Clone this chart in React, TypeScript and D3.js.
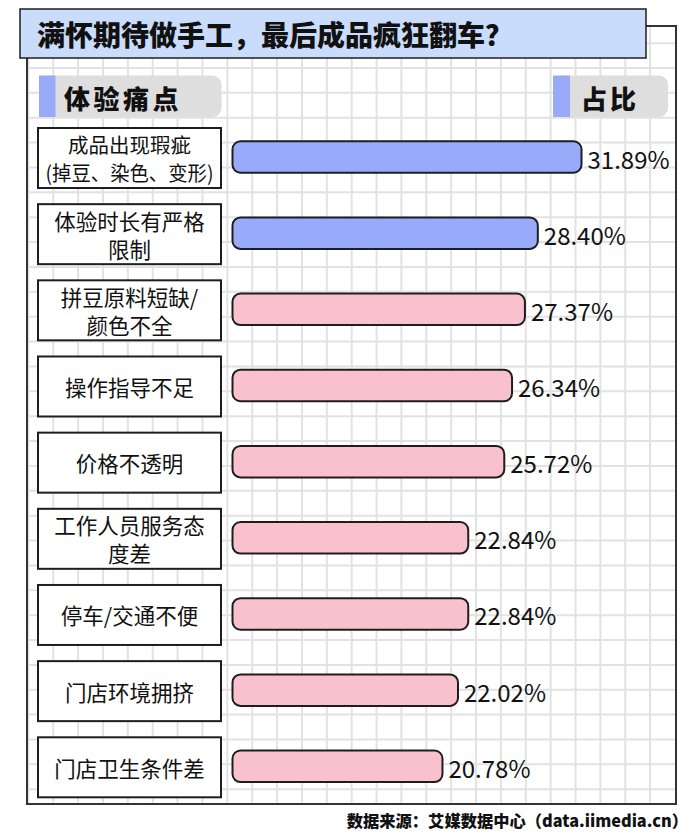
import React from "react";
import * as d3 from "d3";

const title = "满怀期待做手工，最后成品疯狂翻车？";
const headerLeft = "体验痛点";
const headerRight = "占比";
const source = "数据来源：艾媒数据中心（data.iimedia.cn）";

const categories: string[][] = [
  ["成品出现瑕疵", "(掉豆、染色、变形)"],
  ["体验时长有严格", "限制"],
  ["拼豆原料短缺/", "颜色不全"],
  ["操作指导不足"],
  ["价格不透明"],
  ["工作人员服务态", "度差"],
  ["停车/交通不便"],
  ["门店环境拥挤"],
  ["门店卫生条件差"],
];
const values = [31.89, 28.4, 27.37, 26.34, 25.72, 22.84, 22.84, 22.02, 20.78];
const highlightCount = 2;

const W = 700;
const H = 834;
const FONT = "'Noto Sans CJK SC', 'Noto Sans', sans-serif";
const BLUE = "#99aafb";
const PINK = "#f9c1cd";
const DARK = "#1e1e1e";

export default function App() {
  const frame = { x0: 27, y0: 26, x1: 676, y1: 804 };
  const gridStep = 24.87;

  const y = d3
    .scalePoint<number>()
    .domain(d3.range(values.length))
    .range([157, 766.3]);
  const x = d3.scaleLinear().domain([4, 31.89]).range([232.5, 581.5]);

  const barH = 31.5;
  const boxH = 60;
  const box = { x: 38, w: 183 };

  const vLines: number[] = [];
  for (let gx = 675 - gridStep; gx > frame.x0 + 1; gx -= gridStep) vLines.push(gx);
  const hLines: number[] = [];
  for (let gy = 68 - gridStep; gy < frame.y1 - 1; gy += gridStep) if (gy > frame.y0 + 1) hLines.push(gy);

  return (
    <svg
      width={W}
      height={H}
      style={{ position: "absolute", left: 0, top: 0, background: "#fff" }}
      fontFamily={FONT}
    >
      <rect x={0} y={0} width={W} height={H} fill="#fff" />
      {/* grid */}
      <g stroke="#e2e2e2" strokeWidth={2}>
        {vLines.map((gx, i) => (
          <line key={"v" + i} x1={gx} x2={gx} y1={frame.y0} y2={frame.y1} />
        ))}
        {hLines.map((gy, i) => (
          <line key={"h" + i} x1={frame.x0} x2={frame.x1} y1={gy} y2={gy} />
        ))}
      </g>
      <rect
        x={frame.x0}
        y={frame.y0}
        width={frame.x1 - frame.x0}
        height={frame.y1 - frame.y0}
        fill="none"
        stroke="#333"
        strokeWidth={2}
      />

      {/* title */}
      <rect x={20} y={9} width={626} height={49} fill="#c9dcfb" stroke={DARK} strokeWidth={1.5} />
      <text x={37} y={34} fontSize={28} fontWeight={900} fill="#111" dominantBaseline="central">
        {title}
      </text>

      {/* headers */}
      <rect x={39} y={75.5} width={182.5} height={41.5} rx={9} fill="#dedede" />
      <rect x={39} y={75.5} width={16.5} height={41.5} fill={BLUE} />
      <text x={64} y={97} fontSize={26} fontWeight={900} letterSpacing={3.5} fill="#111" dominantBaseline="central">
        {headerLeft}
      </text>
      <rect x={553} y={75.5} width={115} height={41.5} rx={9} fill="#dedede" />
      <rect x={553} y={75.5} width={17} height={41.5} fill={BLUE} />
      <text x={581} y={97} fontSize={26} fontWeight={900} letterSpacing={3} fill="#111" dominantBaseline="central">
        {headerRight}
      </text>

      {/* rows */}
      {values.map((v, i) => {
        const cy = y(i) as number;
        const lines = categories[i];
        const lh = 28;
        return (
          <g key={i}>
            <rect
              x={box.x}
              y={cy + 1 - boxH / 2}
              width={box.w}
              height={boxH}
              fill="#fff"
              stroke={DARK}
              strokeWidth={2}
            />
            {lines.map((t, j) => {
              const ty = cy + 1 + (j - (lines.length - 1) / 2) * lh;
              const isLong = i === 0 && j === 1;
              return (
                <text
                  key={j}
                  x={box.x + box.w / 2}
                  y={ty}
                  fontSize={i === 0 ? 20.5 : 21.5}
                  fill="#111"
                  textAnchor="middle"
                  dominantBaseline="central"
                  textLength={isLong ? 168 : undefined}
                  lengthAdjust={isLong ? "spacingAndGlyphs" : undefined}
                >
                  {t}
                </text>
              );
            })}
            <rect
              x={x.range()[0]}
              y={cy - barH / 2}
              width={x(v) - x.range()[0]}
              height={barH}
              rx={8}
              fill={i < highlightCount ? BLUE : PINK}
              stroke={DARK}
              strokeWidth={2}
            />
            <text
              x={x(v) + 6}
              y={cy + 1}
              fontSize={24}
              fill="#111"
              dominantBaseline="central"
            >
              {v.toFixed(2) + "%"}
            </text>
          </g>
        );
      })}

      {/* source */}
      <text
        x={688}
        y={820}
        fontSize={16.3}
        fontWeight={900}
        fill="#111"
        textAnchor="end"
        dominantBaseline="central"
      >
        {source}
      </text>
    </svg>
  );
}
